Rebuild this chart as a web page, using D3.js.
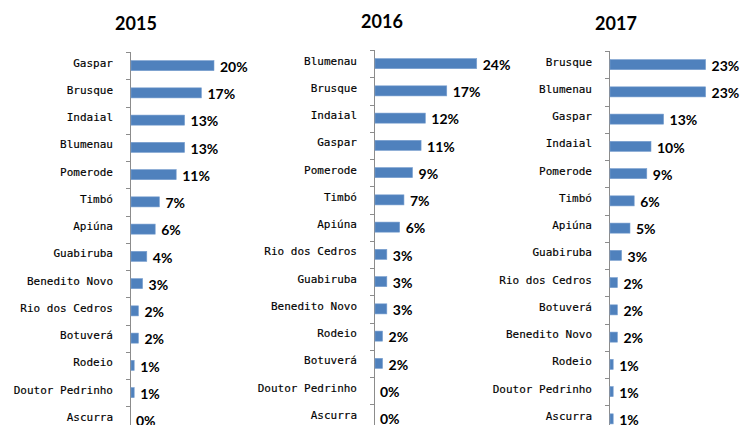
<!DOCTYPE html>
<html>
<head>
<meta charset="utf-8">
<script src="https://cdn.jsdelivr.net/npm/d3@7"></script>
<style>
  body { margin: 0; background: #fff; }
  svg { display: block; }
</style>
</head>
<body>
<svg id="chart"></svg>
<script>
var years = ['2015', '2016', '2017'];

var cities2015 = ['Gaspar', 'Brusque', 'Indaial', 'Blumenau', 'Pomerode', 'Timbó', 'Apiúna', 'Guabiruba', 'Benedito Novo', 'Rio dos Cedros', 'Botuverá', 'Rodeio', 'Doutor Pedrinho', 'Ascurra'];
var values2015 = [20, 17, 13, 13, 11, 7, 6, 4, 3, 2, 2, 1, 1, 0];

var cities2016 = ['Blumenau', 'Brusque', 'Indaial', 'Gaspar', 'Pomerode', 'Timbó', 'Apiúna', 'Rio dos Cedros', 'Guabiruba', 'Benedito Novo', 'Rodeio', 'Botuverá', 'Doutor Pedrinho', 'Ascurra'];
var values2016 = [24, 17, 12, 11, 9, 7, 6, 3, 3, 3, 2, 2, 0, 0];

var cities2017 = ['Brusque', 'Blumenau', 'Gaspar', 'Indaial', 'Pomerode', 'Timbó', 'Apiúna', 'Guabiruba', 'Rio dos Cedros', 'Botuverá', 'Benedito Novo', 'Rodeio', 'Doutor Pedrinho', 'Ascurra'];
var values2017 = [23, 23, 13, 10, 9, 6, 5, 3, 2, 2, 2, 1, 1, 1];

var width = 743;
var height = 425;
var step = 27.25;

// one entry per small chart: where its axis sits
var panels = [
    { year: years[0], cities: cities2015, values: values2015, axisX: 130, top: 52, titleX: 136, titleY: 30, span: 105 },
    { year: years[1], cities: cities2016, values: values2016, axisX: 374, top: 50, titleX: 382, titleY: 28, span: 107 },
    { year: years[2], cities: cities2017, values: values2017, axisX: 609, top: 51, titleX: 616, titleY: 29.5, span: 105 }
];

var svg = d3.select('#chart')
    .attr('width', width)
    .attr('height', height);

panels.forEach(function(p) {
    var data = p.cities.map(function(c, i) {
        return { city: c, value: p.values[i] };
    });

    var yScale = d3.scaleBand()
        .domain(p.cities)
        .range([p.top, p.top + step * p.cities.length])
        .paddingInner(0.63)
        .paddingOuter(0.315);

    var xScale = d3.scaleLinear()
        .domain([0, 25])
        .range([p.axisX, p.axisX + p.span]);

    var g = svg.append('g');

    g.append('text')
        .attr('x', p.titleX)
        .attr('y', p.titleY)
        .attr('text-anchor', 'middle')
        .attr('font-family', 'Lato, sans-serif')
        .attr('font-weight', 'bold')
        .attr('font-size', '18px')
        .attr('fill', '#000')
        .text(p.year);

    var yAxis = d3.axisLeft(yScale)
        .tickSize(0)
        .tickPadding(17);

    var ax = g.append('g')
        .attr('transform', 'translate(' + p.axisX + ',0)')
        .call(yAxis);
    ax.select('.domain').remove();
    ax.selectAll('text')
        .attr('dy', '0.08em')
        .attr('font-family', '"DejaVu Sans Mono", monospace')
        .attr('font-size', '11px')
        .attr('fill', '#000')
        .attr('stroke', '#000')
        .attr('stroke-width', 0.15);

    // axis line runs past the bottom of the picture
    g.append('line')
        .attr('x1', p.axisX + 0.5)
        .attr('x2', p.axisX + 0.5)
        .attr('y1', p.top)
        .attr('y2', height)
        .attr('stroke', '#8c8c8c');

    // ticks sit between the categories
    g.selectAll('.bound')
        .data(p.cities)
        .enter()
        .append('line')
        .attr('x1', p.axisX - 4)
        .attr('x2', p.axisX)
        .attr('y1', function(d) { return Math.round(yScale(d) - yScale.step() * 0.315) + 0.5; })
        .attr('y2', function(d) { return Math.round(yScale(d) - yScale.step() * 0.315) + 0.5; })
        .attr('stroke', '#8c8c8c');

    g.selectAll('rect')
        .data(data)
        .enter()
        .append('rect')
        .attr('x', p.axisX + 1)
        .attr('y', function(d) { return yScale(d.city); })
        .attr('width', function(d) { return Math.max(0, xScale(d.value) - p.axisX - 1); })
        .attr('height', yScale.bandwidth())
        .attr('fill', '#4f81bd')
        .attr('stroke', function(d) { return d.value > 0 ? '#7aa0d0' : 'none'; })
        .attr('stroke-width', 0.6);

    g.selectAll('.val')
        .data(data)
        .enter()
        .append('text')
        .attr('x', function(d) { return xScale(d.value) + 6; })
        .attr('y', function(d) { return yScale(d.city) + yScale.bandwidth() / 2; })
        .attr('dy', '0.45em')
        .attr('font-family', 'Lato, sans-serif')
        .attr('font-weight', 'bold')
        .attr('font-size', '14px')
        .attr('fill', '#000')
        .text(function(d) { return d.value + '%'; });
});
</script>
</body>
</html>
